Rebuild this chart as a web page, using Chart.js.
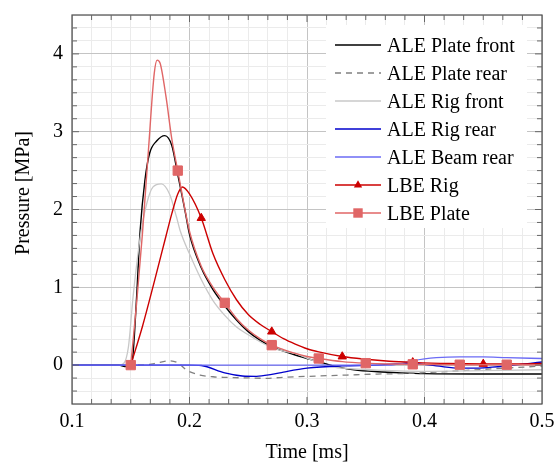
<!DOCTYPE html>
<html>
<head>
<meta charset="utf-8">
<script src="https://cdn.jsdelivr.net/npm/chart.js@4.4.1/dist/chart.umd.min.js"></script>
<style>
  html, body { margin: 0; padding: 0; background: #fff; }
  #wrap { width: 555px; height: 467px; }
</style>
</head>
<body>
<div id="wrap"><canvas id="pressureChart" width="555" height="467"></canvas></div>
<script>
// --- data (time in ms, pressure in MPa) ---
var seriesLabels = ["ALE Plate front", "ALE Plate rear", "ALE Rig front", "ALE Rig rear", "ALE Beam rear", "LBE Rig", "LBE Plate"];

var plateFrontT = [0.1, 0.14, 0.145, 0.15, 0.152, 0.155, 0.158, 0.162, 0.166, 0.172, 0.179, 0.185, 0.19, 0.196, 0.2, 0.21, 0.22, 0.23, 0.24, 0.25, 0.26, 0.27, 0.28, 0.29, 0.3, 0.31, 0.32, 0.33, 0.34, 0.36, 0.38, 0.4, 0.45, 0.5];
var plateFrontP = [0, 0, -0.02, -0.01, 0.15, 0.88, 1.73, 2.37, 2.72, 2.88, 2.95, 2.82, 2.45, 2.0, 1.68, 1.25, 0.97, 0.76, 0.58, 0.43, 0.32, 0.235, 0.18, 0.13, 0.085, 0.04, 0.0, -0.035, -0.06, -0.085, -0.1, -0.11, -0.115, -0.115];

var plateRearT = [0.1, 0.16, 0.17, 0.183, 0.19, 0.1975, 0.209, 0.22, 0.2315, 0.25, 0.2656, 0.277, 0.3, 0.3336, 0.36, 0.387, 0.41, 0.43, 0.45, 0.4724, 0.5];
var plateRearP = [0, 0, 0.02, 0.055, 0.03, -0.064, -0.128, -0.15, -0.158, -0.165, -0.17, -0.16, -0.145, -0.128, -0.115, -0.107, -0.09, -0.073, -0.055, -0.035, -0.013];

var rigFrontT = [0.1, 0.14, 0.144, 0.148, 0.152, 0.158, 0.1635, 0.169, 0.176, 0.183, 0.189, 0.192, 0.2, 0.21, 0.22, 0.23, 0.24, 0.25, 0.26, 0.27, 0.28, 0.29, 0.3, 0.31, 0.32, 0.34, 0.36, 0.4, 0.45, 0.5];
var rigFrontP = [0, 0, 0.02, 0.23, 0.88, 1.64, 2.07, 2.29, 2.33, 2.2, 1.9, 1.73, 1.43, 1.1, 0.83, 0.64, 0.49, 0.39, 0.3, 0.225, 0.18, 0.15, 0.09, 0.03, -0.02, -0.05, -0.065, -0.08, -0.07, -0.06];

var rigRearT = [0.1, 0.2, 0.21, 0.23, 0.245, 0.257, 0.27, 0.28, 0.3, 0.33, 0.36, 0.38, 0.39, 0.41, 0.43, 0.45, 0.47, 0.5];
var rigRearP = [0, 0, -0.005, -0.1, -0.14, -0.145, -0.12, -0.09, -0.04, -0.01, 0.0, 0.02, 0.02, -0.01, -0.04, -0.035, -0.01, 0.04];

var beamRearT = [0.1, 0.37, 0.38, 0.39, 0.4, 0.41, 0.43, 0.45, 0.47, 0.5];
var beamRearP = [0, 0, 0.02, 0.055, 0.08, 0.095, 0.105, 0.105, 0.095, 0.085];

var lbeRigT = [0.15, 0.16, 0.17, 0.18, 0.185, 0.19, 0.194, 0.2, 0.21, 0.22, 0.23, 0.24, 0.25, 0.26, 0.27, 0.28, 0.29, 0.3, 0.31, 0.33, 0.35, 0.37, 0.39, 0.42, 0.45, 0.48, 0.5];
var lbeRigP = [0, 0.5, 1.07, 1.66, 1.95, 2.2, 2.29, 2.2, 1.89, 1.43, 1.1, 0.84, 0.65, 0.525, 0.43, 0.34, 0.27, 0.21, 0.17, 0.11, 0.075, 0.05, 0.035, 0.02, 0.015, 0.015, 0.02];
var lbeRigMarks = [0.15, 0.21, 0.27, 0.33, 0.39, 0.45];

var lbePlateT = [0.15, 0.155, 0.16, 0.165, 0.17, 0.1725, 0.175, 0.18, 0.185, 0.19, 0.2, 0.21, 0.22, 0.23, 0.24, 0.25, 0.26, 0.27, 0.28, 0.29, 0.3, 0.31, 0.33, 0.35, 0.37, 0.39, 0.43, 0.47, 0.5];
var lbePlateP = [0, 0.8, 1.7, 2.75, 3.75, 3.92, 3.88, 3.45, 2.9, 2.5, 1.72, 1.27, 1.0, 0.8, 0.6, 0.45, 0.34, 0.256, 0.2, 0.15, 0.11, 0.085, 0.045, 0.025, 0.015, 0.01, 0.005, 0.005, 0.005];
var lbePlateMarks = [0.15, 0.19, 0.23, 0.27, 0.31, 0.35, 0.39, 0.43, 0.47];

var xTickLabels = ["0.1", "0.2", "0.3", "0.4", "0.5"];
var yTickLabels = ["0", "1", "2", "3", "4"];
var xTitle = "Time [ms]";
var yTitle = "Pressure [MPa]";

var serif = '"Liberation Serif", "Times New Roman", serif';

function toPoints(ts, ps) {
  var out = [];
  for (var i = 0; i < ts.length; i++) out.push({ x: ts[i], y: ps[i] });
  return out;
}
function markRadius(ts, marks, r) {
  return function (c) {
    var t = ts[c.dataIndex];
    for (var k = 0; k < marks.length; k++) {
      if (Math.abs(marks[k] - t) < 1e-9) return r;
    }
    return 0;
  };
}
function near(v, step) {
  return Math.abs(v / step - Math.round(v / step)) < 1e-6;
}

var lineStyle = [
  { color: "#000000", width: 1.4 },
  { color: "#808080", width: 1.3, dash: [6, 5] },
  { color: "#c8c8c8", width: 1.3 },
  { color: "#0000cc", width: 1.3 },
  { color: "#6b6bf5", width: 1.3 },
  { color: "#cc0000", width: 1.4, mark: "triangle" },
  { color: "#e06666", width: 1.4, mark: "rect" }
];

var seriesT = [plateFrontT, plateRearT, rigFrontT, rigRearT, beamRearT, lbeRigT, lbePlateT];
var seriesP = [plateFrontP, plateRearP, rigFrontP, rigRearP, beamRearP, lbeRigP, lbePlateP];

var datasets = [];
for (var i = 0; i < seriesLabels.length; i++) {
  var st = lineStyle[i];
  var ds = {
    label: seriesLabels[i],
    data: toPoints(seriesT[i], seriesP[i]),
    borderColor: st.color,
    backgroundColor: st.color,
    borderWidth: st.width,
    borderDash: st.dash || [],
    fill: false,
    cubicInterpolationMode: "monotone",
    pointRadius: 0,
    pointHoverRadius: 0,
    order: 20 - i
  };
  if (st.mark === "triangle") {
    ds.pointStyle = "triangle";
    ds.pointRadius = markRadius(lbeRigT, lbeRigMarks, 4.8);
    ds.pointBorderWidth = 1;
    ds.pointBorderColor = st.color;
    ds.pointBackgroundColor = st.color;
  }
  if (st.mark === "rect") {
    ds.pointStyle = "rect";
    ds.pointRadius = markRadius(lbePlateT, lbePlateMarks, 6.6);
    ds.pointBorderWidth = 1;
    ds.pointBorderColor = st.color;
    ds.pointBackgroundColor = st.color;
  }
  datasets.push(ds);
}

// legend + pgfplots-like frame with inward ticks
var framePlugin = {
  id: "frameAndLegend",
  afterDraw: function (chart) {
    var ctx = chart.ctx;
    var a = chart.chartArea;
    var xs = chart.scales.x, ys = chart.scales.y;
    ctx.save();

    // y axis label (sits a bit above the axis middle in the original)
    ctx.save();
    ctx.translate(24, 193);
    ctx.rotate(-Math.PI / 2);
    ctx.fillStyle = "#000";
    ctx.font = "20px " + serif;
    ctx.textAlign = "center";
    ctx.textBaseline = "middle";
    ctx.fillText(yTitle, 0, 0);
    ctx.restore();

    // legend box
    ctx.fillStyle = "#ffffff";
    ctx.fillRect(326, 25, 201, 203);
    chart.data.datasets.forEach(function (ds, i) {
      var st = lineStyle[i];
      var y = 45 + i * 28;
      ctx.strokeStyle = st.color;
      ctx.lineWidth = st.width;
      ctx.setLineDash(st.dash || []);
      ctx.beginPath();
      ctx.moveTo(335, y);
      ctx.lineTo(381, y);
      ctx.stroke();
      ctx.setLineDash([]);
      ctx.fillStyle = st.color;
      if (st.mark === "triangle") {
        var r = 4.8;
        ctx.beginPath();
        ctx.moveTo(358, y - r);
        ctx.lineTo(358 + r * 0.866, y + r * 0.5);
        ctx.lineTo(358 - r * 0.866, y + r * 0.5);
        ctx.closePath();
        ctx.fill();
      } else if (st.mark === "rect") {
        ctx.fillRect(358 - 4.7, y - 4.7, 9.4, 9.4);
      }
      ctx.fillStyle = "#000";
      ctx.font = "20px " + serif;
      ctx.textBaseline = "alphabetic";
      ctx.textAlign = "left";
      ctx.fillText(ds.label, 387, y + 6.5);
    });

    // frame
    ctx.strokeStyle = "#4d4d4d";
    ctx.lineWidth = 1.2;
    ctx.strokeRect(a.left, a.top, a.right - a.left, a.bottom - a.top);

    // inward ticks
    ctx.strokeStyle = "#666666";
    ctx.lineWidth = 1;
    xs.ticks.forEach(function (t) {
      var px = xs.getPixelForValue(t.value);
      if (px <= a.left + 1 || px >= a.right - 1) return;
      var len = near(t.value, 0.1) ? 7 : 5;
      ctx.beginPath();
      ctx.moveTo(px, a.bottom); ctx.lineTo(px, a.bottom - len);
      ctx.moveTo(px, a.top); ctx.lineTo(px, a.top + len);
      ctx.stroke();
    });
    ys.ticks.forEach(function (t) {
      var py = ys.getPixelForValue(t.value);
      if (py <= a.top + 1 || py >= a.bottom - 1) return;
      var len = near(t.value, 1) ? 7 : 5;
      ctx.beginPath();
      ctx.moveTo(a.left, py); ctx.lineTo(a.left + len, py);
      ctx.moveTo(a.right, py); ctx.lineTo(a.right - len, py);
      ctx.stroke();
    });
    ctx.restore();
  }
};

var ctx = document.getElementById("pressureChart").getContext("2d");
var chart = new Chart(ctx, {
  type: "line",
  data: { datasets: datasets },
  options: {
    responsive: false,
    animation: false,
    devicePixelRatio: 1,
    layout: { autoPadding: false, padding: { top: 15, right: 13, left: 0, bottom: 0 } },
    plugins: { legend: { display: false }, tooltip: { enabled: false } },
    scales: {
      x: {
        type: "linear",
        min: 0.1,
        max: 0.5,
        afterFit: function (s) {
          s.height = 63;
          s.paddingLeft = 0; s.paddingRight = 0; s.paddingTop = 0; s.paddingBottom = 0;
        },
        border: { display: false },
        grid: {
          drawTicks: false,
          lineWidth: 1,
          color: function (c) { return near(c.tick.value, 0.1) ? "#c4c4c4" : "#ebebeb"; }
        },
        ticks: {
          stepSize: 1 / 60,
          autoSkip: false,
          maxRotation: 0,
          padding: 6,
          color: "#000",
          font: { family: serif, size: 20 },
          callback: function (v) {
            if (!near(v, 0.1)) return "";
            var idx = Math.round((v - 0.1) * 10);
            return xTickLabels[idx] || "";
          }
        },
        title: {
          display: true,
          text: xTitle,
          color: "#000",
          font: { family: serif, size: 20 },
          padding: { top: 0, bottom: 2 }
        }
      },
      y: {
        type: "linear",
        min: -0.5,
        max: 4.5,
        afterFit: function (s) {
          s.width = 72;
          s.paddingLeft = 0; s.paddingRight = 0; s.paddingTop = 0; s.paddingBottom = 0;
        },
        border: { display: false },
        grid: {
          drawTicks: false,
          lineWidth: 1,
          color: function (c) { return near(c.tick.value, 1) ? "#c4c4c4" : "#ebebeb"; }
        },
        ticks: {
          stepSize: 1 / 6,
          autoSkip: false,
          padding: 9,
          color: "#000",
          font: { family: serif, size: 20 },
          callback: function (v) {
            if (!near(v, 1)) return "";
            var idx = Math.round(v);
            return yTickLabels[idx] || "";
          }
        },
        title: { display: false }
      }
    }
  },
  plugins: [framePlugin]
});
</script>
</body>
</html>
